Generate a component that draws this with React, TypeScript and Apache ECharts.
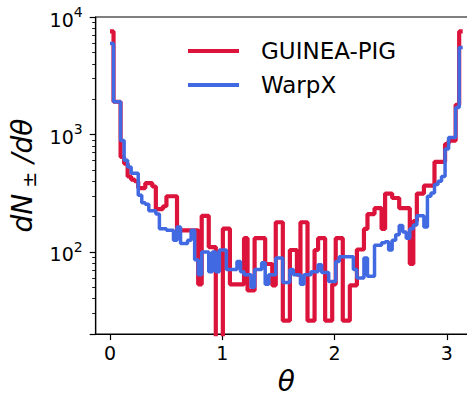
import React, { useEffect, useRef } from "react";
import * as echarts from "echarts";

// histogram of theta, 100 bins from 0 to pi
const N_BINS = 100;
const THETA_MAX = Math.PI;
const X_MIN = -0.1274;
const X_MAX = 3.269;

const guineaPig: number[] = [
  7543, 1900, 1900, 643, 565, 439, 413, 400, 350, 350,
  385, 385, 361, 232, 232, 245, 298, 298, 298, 153,
  153, 153, 153, 153, 153, 53, 203, 203, 110, 110,
  1, 1, 158, 158, 53, 53, 53, 53, 131, 47,
  47, 131, 131, 131, 79, 79, 52, 179, 179, 26,
  26, 104, 104, 64, 179, 179, 26, 26, 104, 131,
  131, 26, 26, 53, 131, 131, 26, 26, 52, 52,
  105, 105, 157, 210, 210, 236, 236, 157, 314, 314,
  288, 288, 236, 236, 236, 79, 183, 314, 314, 367,
  367, 367, 585, 585, 585, 830, 886, 886, 1788, 7543,
];

const warpX: number[] = [
  5950, 1900, 1900, 890, 605, 530, 467, 467, 304, 262,
  255, 224, 224, 211, 158, 158, 153, 153, 126, 163,
  118, 118, 126, 153, 86, 64, 100, 100, 68, 100,
  68, 104, 104, 71, 71, 71, 83, 68, 64, 64,
  50, 71, 71, 81, 53, 64, 64, 89, 89, 55,
  55, 71, 64, 64, 53, 64, 64, 68, 68, 78,
  67, 67, 56, 56, 83, 91, 91, 91, 91, 71,
  60, 60, 89, 62, 62, 114, 114, 120, 122, 104,
  126, 140, 168, 148, 131, 158, 170, 203, 203, 163,
  298, 318, 376, 400, 439, 754, 943, 943, 1700, 5500,
];

const seriesNames = ["GUINEA-PIG", "WarpX"];
const seriesColors = ["#DC143C", "#4169E1"];
const xTicks = [0, 1, 2, 3];
const yMajorTicks = [100, 1000, 10000];

const binEdges: number[] = Array.from({ length: N_BINS + 1 }, (_, i) => (i * THETA_MAX) / N_BINS);

function toSteps(values: number[]): number[][] {
  return binEdges.map((e, i) => [e, values[Math.min(i, values.length - 1)]]);
}

const FONT = "DejaVu Sans";

export default function App() {
  const ref = useRef<HTMLDivElement>(null);
  useEffect(() => {
    if (!ref.current) return;
    const chart = echarts.init(ref.current, null, { renderer: "svg" });
    chart.setOption({
      animation: false,
      backgroundColor: "#ffffff",
      textStyle: { fontFamily: FONT },
      grid: { left: 95.7, top: 17, right: 3, bottom: 59, show: true, borderColor: "#000", borderWidth: 1.2, backgroundColor: "transparent" },
      legend: {
        orient: "vertical",
        left: 183,
        top: 33,
        itemWidth: 51,
        itemHeight: 4,
        itemGap: 8,
        icon: "rect",
        data: seriesNames,
        textStyle: { fontSize: 23, fontFamily: FONT, color: "#000", lineHeight: 26, padding: [0, 0, 0, 17] },
      },
      xAxis: {
        type: "value",
        min: X_MIN,
        max: X_MAX,
        name: "θ",
        nameLocation: "middle",
        nameGap: 32,
        nameTextStyle: { fontSize: 28, fontStyle: "italic", fontFamily: FONT, color: "#000" },
        axisLine: { show: true, onZero: false, lineStyle: { color: "#000", width: 1.2 } },
        axisTick: { show: true, inside: false, length: 6, customValues: xTicks, lineStyle: { color: "#000", width: 1.2 } },
        axisLabel: { customValues: xTicks, fontSize: 19, color: "#000", margin: 9, fontFamily: FONT, formatter: (v: number) => String(v) },
        splitLine: { show: false },
      },
      yAxis: {
        type: "log",
        logBase: 10,
        min: 20,
        max: 10000,
        splitLine: { show: false },
        minorSplitLine: { show: false },
        name: "{i|dN}{sub| ±}{i| /dθ}",
        nameLocation: "middle",
        nameGap: 56,
        nameRotate: 90,
        nameTextStyle: {
          rich: {
            i: { fontSize: 28, fontStyle: "italic", fontFamily: FONT, color: "#000" },
            sub: { fontSize: 19, fontFamily: FONT, color: "#000", verticalAlign: "top", padding: [14, 0, 0, 0] },
          },
        },
        axisLine: { show: true, onZero: false, lineStyle: { color: "#000", width: 1.2 } },
        axisTick: { show: true, inside: false, length: 6, lineStyle: { color: "#000", width: 1.2 } },
        minorTick: { show: true, splitNumber: 9, length: 3.5, lineStyle: { color: "#000", width: 0.9 } },
        axisLabel: {
          customValues: yMajorTicks,
          margin: 13,
          formatter: (v: number) => `{b|10}{s|${Math.round(Math.log10(v))}}`,
          rich: {
            b: { fontSize: 19, fontFamily: FONT, color: "#000", verticalAlign: "bottom", lineHeight: 22 },
            s: { fontSize: 14, fontFamily: FONT, color: "#000", verticalAlign: "bottom", padding: [0, 0, 10, 0] },
          },
        },
      },
      series: [
        {
          name: seriesNames[0],
          type: "line",
          step: "end",
          data: toSteps(guineaPig),
          showSymbol: false,
          symbol: "none",
          clip: true,
          color: seriesColors[0],
          lineStyle: { color: seriesColors[0], width: 4.2 },
        },
        {
          name: seriesNames[1],
          type: "line",
          step: "end",
          data: toSteps(warpX),
          showSymbol: false,
          symbol: "none",
          clip: true,
          color: seriesColors[1],
          lineStyle: { color: seriesColors[1], width: 3.5 },
        },
      ],
    });
    return () => chart.dispose();
  }, []);
  return (
    <div style={{ position: "fixed", left: 0, top: 0, width: 467, height: 400, overflow: "hidden" }}>
      <div ref={ref} style={{ width: 480, height: 400 }} />
    </div>
  );
}
